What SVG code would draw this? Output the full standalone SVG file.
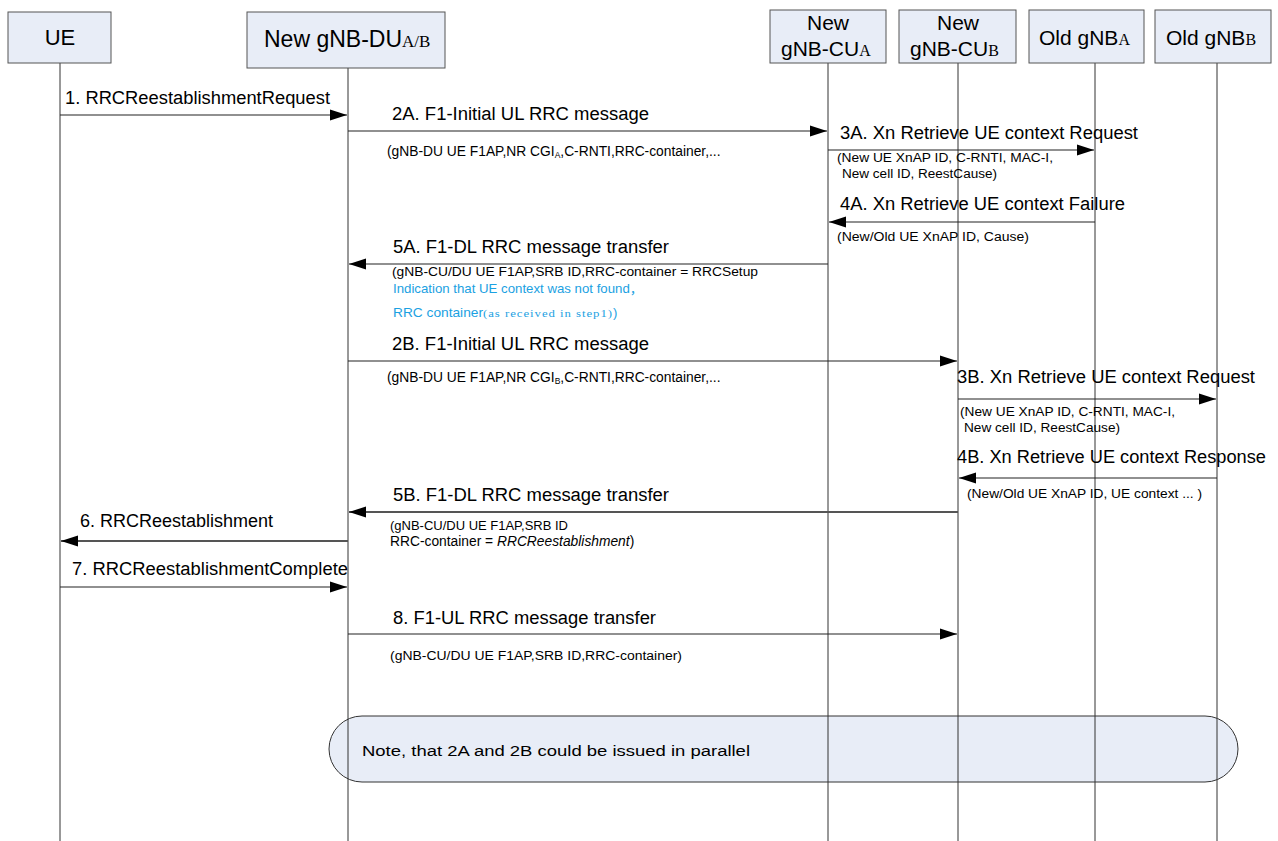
<svg xmlns="http://www.w3.org/2000/svg" width="1278" height="841" viewBox="0 0 1278 841">
<defs>
<style>
.box{fill:#E8EDF7;stroke:#555;stroke-width:1}
.hd{font-family:"Liberation Sans",Arial,sans-serif;font-size:21px;fill:#000}
.hs{font-family:"Liberation Serif","Times New Roman",serif;font-size:16px;fill:#000}
.life{stroke:#333;stroke-width:1;fill:none}
.msg{stroke:#222;stroke-width:1.2;fill:none;marker-end:url(#ah)}
.msg2{stroke:#555;stroke-width:2;fill:none;marker-end:url(#ah)}
.lbl{font-family:"Liberation Sans",Arial,sans-serif;font-size:18px;fill:#000}
.sub{font-family:"Liberation Sans",Arial,sans-serif;font-size:12.5px;fill:#000}
.subl{font-family:"Liberation Sans",Arial,sans-serif;font-size:13.8px;fill:#000}
.blue{font-family:"Liberation Sans",Arial,"Noto Sans CJK SC",sans-serif;font-size:13px;fill:#1BA1E2}
.bser{font-family:"Liberation Serif","Times New Roman",serif;font-size:10.5px;fill:#1BA1E2;letter-spacing:0.8px}
.note{fill:#E8EDF7;stroke:#333;stroke-width:1}
.ntxt{font-family:"Liberation Sans",Arial,sans-serif;font-size:15.5px;fill:#000}
</style>
<marker id="ah" markerUnits="userSpaceOnUse" markerWidth="18" markerHeight="12" refX="17" refY="6" orient="auto">
<path d="M0,0.5 L17,6 L0,11.5 z" fill="#000"/>
</marker>
</defs>

<g id="note">
<rect class="note" x="329" y="716" width="909" height="66" rx="33" ry="33"/>
<text class="ntxt" x="362" y="756" textLength="388" lengthAdjust="spacingAndGlyphs">Note, that 2A and 2B could be issued in parallel</text>
</g>

<g id="lifelines">
<line class="life" x1="60" y1="63" x2="60" y2="841"/>
<line class="life" x1="348" y1="68" x2="348" y2="841"/>
<line class="life" x1="828" y1="63" x2="828" y2="841"/>
<line class="life" x1="958" y1="63" x2="958" y2="841"/>
<line class="life" x1="1095" y1="63" x2="1095" y2="841"/>
<line class="life" x1="1217" y1="63" x2="1217" y2="841"/>
</g>

<g id="node-ue">
<rect class="box" x="8" y="12" width="103" height="51"/>
<text class="hd" x="60" y="45" text-anchor="middle" style="font-size:22px">UE</text>
</g>
<g id="node-du">
<rect class="box" x="247" y="12" width="198" height="56"/>
<text class="hd" x="264" y="47" style="font-size:23px">New gNB-DU<tspan class="hs" style="font-size:17px">A/B</tspan></text>
</g>
<g id="node-cua">
<rect class="box" x="770" y="10" width="116" height="53"/>
<text class="hd" x="828" y="30" text-anchor="middle">New</text>
<text class="hd" x="781" y="56">gNB-CU<tspan class="hs">A</tspan></text>
</g>
<g id="node-cub">
<rect class="box" x="899" y="10" width="117" height="53"/>
<text class="hd" x="958" y="30" text-anchor="middle">New</text>
<text class="hd" x="910" y="56">gNB-CU<tspan class="hs">B</tspan></text>
</g>
<g id="node-olda">
<rect class="box" x="1029" y="10" width="115" height="53"/>
<text class="hd" x="1039" y="45">Old gNB<tspan class="hs">A</tspan></text>
</g>
<g id="node-oldb">
<rect class="box" x="1155" y="10" width="116" height="53"/>
<text class="hd" x="1166" y="45">Old gNB<tspan class="hs">B</tspan></text>
</g>

<g id="connectors">
<line class="msg" x1="60" y1="115" x2="347" y2="115"/>
<line class="msg" x1="348" y1="131" x2="827" y2="131"/>
<line class="msg" x1="828" y1="150" x2="1094" y2="150"/>
<line class="msg" x1="1095" y1="222" x2="829" y2="222"/>
<line class="msg" x1="828" y1="264" x2="349" y2="264"/>
<line class="msg" x1="348" y1="361" x2="957" y2="361"/>
<line class="msg" x1="958" y1="399" x2="1216" y2="399"/>
<line class="msg" x1="1217" y1="478" x2="959" y2="478"/>
<line class="msg2" x1="958" y1="512" x2="349" y2="512"/>
<line class="msg2" x1="348" y1="541" x2="61" y2="541"/>
<line class="msg" x1="60" y1="587" x2="347" y2="587"/>
<line class="msg" x1="348" y1="634" x2="957" y2="634"/>
</g>

<g id="labels">
<text class="lbl" x="65" y="104" textLength="265" lengthAdjust="spacingAndGlyphs">1. RRCReestablishmentRequest</text>

<text class="lbl" x="392" y="120" textLength="257" lengthAdjust="spacingAndGlyphs">2A. F1-Initial UL RRC message</text>
<text class="subl" x="387" y="156">(gNB-DU UE F1AP,NR CGI<tspan style="font-size:8.5px" dy="2">A</tspan><tspan dy="-2">,C-RNTI,RRC-container,...</tspan></text>

<text class="lbl" x="840" y="139" textLength="298" lengthAdjust="spacingAndGlyphs">3A. Xn Retrieve UE context Request</text>
<text class="sub" x="837" y="162" textLength="216" lengthAdjust="spacingAndGlyphs">(New UE XnAP ID, C-RNTI, MAC-I,</text>
<text class="sub" x="842" y="178" textLength="155" lengthAdjust="spacingAndGlyphs">New cell ID, ReestCause)</text>

<text class="lbl" x="840" y="210" textLength="285" lengthAdjust="spacingAndGlyphs">4A. Xn Retrieve UE context Failure</text>
<text class="sub" x="837" y="241" textLength="192" lengthAdjust="spacingAndGlyphs">(New/Old UE XnAP ID, Cause)</text>

<text class="lbl" x="393" y="253" textLength="276" lengthAdjust="spacingAndGlyphs">5A. F1-DL RRC message transfer</text>
<text class="sub" x="392" y="276" textLength="366" lengthAdjust="spacingAndGlyphs">(gNB-CU/DU UE F1AP,SRB ID,RRC-container = RRCSetup</text>
<text class="blue" x="393" y="293" textLength="250" lengthAdjust="spacingAndGlyphs">Indication that UE context was not found，</text>
<text class="blue" x="393" y="317"><tspan textLength="90" lengthAdjust="spacingAndGlyphs">RRC container</tspan><tspan class="bser" textLength="130" lengthAdjust="spacingAndGlyphs">(as received in step1)</tspan><tspan>)</tspan></text>

<text class="lbl" x="392" y="350" textLength="257" lengthAdjust="spacingAndGlyphs">2B. F1-Initial UL RRC message</text>
<text class="subl" x="387" y="382">(gNB-DU UE F1AP,NR CGI<tspan style="font-size:8.5px" dy="2">B</tspan><tspan dy="-2">,C-RNTI,RRC-container,...</tspan></text>

<text class="lbl" x="957" y="383" textLength="298" lengthAdjust="spacingAndGlyphs">3B. Xn Retrieve UE context Request</text>
<text class="sub" x="960" y="416" textLength="215" lengthAdjust="spacingAndGlyphs">(New UE XnAP ID, C-RNTI, MAC-I,</text>
<text class="sub" x="964" y="432" textLength="156" lengthAdjust="spacingAndGlyphs">New cell ID, ReestCause)</text>

<text class="lbl" x="957" y="463" textLength="309" lengthAdjust="spacingAndGlyphs">4B. Xn Retrieve UE context Response</text>
<text class="sub" x="967" y="498" textLength="235" lengthAdjust="spacingAndGlyphs">(New/Old UE XnAP ID, UE context ... )</text>

<text class="lbl" x="393" y="501" textLength="276" lengthAdjust="spacingAndGlyphs">5B. F1-DL RRC message transfer</text>
<text class="sub" x="390" y="530" textLength="178" lengthAdjust="spacingAndGlyphs">(gNB-CU/DU UE F1AP,SRB ID</text>
<text class="subl" x="390" y="546">RRC-container = <tspan font-style="italic">RRCReestablishment</tspan>)</text>

<text class="lbl" x="80" y="527" textLength="193" lengthAdjust="spacingAndGlyphs">6. RRCReestablishment</text>
<text class="lbl" x="72" y="575" textLength="276" lengthAdjust="spacingAndGlyphs">7. RRCReestablishmentComplete</text>

<text class="lbl" x="393" y="624" textLength="263" lengthAdjust="spacingAndGlyphs">8. F1-UL RRC message transfer</text>
<text class="sub" x="390" y="660" textLength="292" lengthAdjust="spacingAndGlyphs">(gNB-CU/DU UE F1AP,SRB ID,RRC-container)</text>
</g>
</svg>
